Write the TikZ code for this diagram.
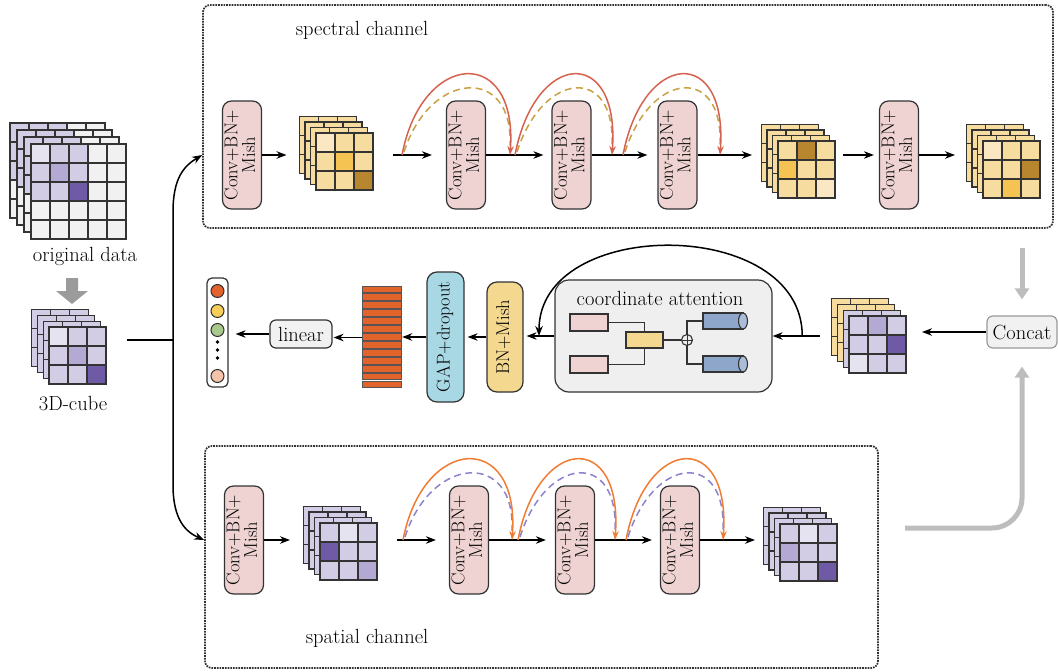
\documentclass[tikz,border=0pt]{standalone}
\usepackage{graphicx}
\usetikzlibrary{arrows.meta,calc}

\definecolor{edge}{HTML}{333333}
\definecolor{cvpink}{HTML}{EFD3D3}
\definecolor{pA}{HTML}{E6E3F0}
\definecolor{pB}{HTML}{D3CCE5}
\definecolor{pC}{HTML}{B3A9D3}
\definecolor{pD}{HTML}{6F5BA5}
\definecolor{gA}{HTML}{F1F1F1}
\definecolor{yA}{HTML}{FBE8C2}
\definecolor{yB}{HTML}{F6DC9F}
\definecolor{yC}{HTML}{F4C352}
\definecolor{yD}{HTML}{B7862F}
\definecolor{skR}{HTML}{D5614F}
\definecolor{skT}{HTML}{C9A046}
\definecolor{skO}{HTML}{F07C34}
\definecolor{skV}{HTML}{8B83CD}
\definecolor{grayarr}{HTML}{BDBDBD}
\definecolor{downgray}{HTML}{9B9B9B}
\definecolor{bnY}{HTML}{F5D890}
\definecolor{gapB}{HTML}{A9D8E5}
\definecolor{caG}{HTML}{EFEFEF}
\definecolor{cylB}{HTML}{8FA6CB}
\definecolor{barO}{HTML}{E2632B}
\definecolor{barEdge}{HTML}{555555}
\definecolor{dotY}{HTML}{F6CD58}
\definecolor{dotG}{HTML}{A9C98C}
\definecolor{dotP}{HTML}{F5C3A9}
\definecolor{concatEdge}{HTML}{9A9A9A}

\newcommand\bfnt{\fontsize{18.5}{15.5}\selectfont}
\newcommand\vlab[1]{\rotatebox{90}{\begin{tabular}{@{}c@{}}#1\end{tabular}}}

% one layer of a feature map: top-left corner, cells per side, colours row by row
\newcommand\gridlayer[4]{%
  \foreach \cc [count=\k from 0] in {#4}{%
    \pgfmathtruncatemacro\rr{floor(\k/#3)}%
    \pgfmathtruncatemacro\qq{\k-\rr*#3}%
    \filldraw[fill=\cc, draw=edge, line width=1.1pt]
      ({#1+\qq*19},{#2+\rr*19}) rectangle ++(19,19);
  }%
}
% a stack of four layers: front top-left, cells per side, layer step, back colours, front colours
\newcommand\fmap[6]{%
  \foreach \L in {3,2,1}{\gridlayer{#1-\L*#4}{#2-\L*#4}{#3}{#5}}%
  \gridlayer{#1}{#2}{#3}{#6}%
}
% residual jump: dashed inner arc and solid outer arc with its head
\newcommand\jumparc[4]{%
  \draw[jumpD=#4] ($(#1)+(2,-3)$) .. controls ($(#1)+(28,-85)$) and ($(#2)+(4,-90)$) .. ($(#2)+(0,-9)$);
  \draw[jumpS=#3] (#1) .. controls ($(#1)+(20,-105)$) and ($(#2)+(8,-110)$) .. (#2);
}
% horizontal cylinder given the centre of its left end
\newcommand\cyl[1]{%
  \filldraw[fill=cylB, draw=edge, line width=1.1pt] ($(#1)+(0,-8)$) rectangle ($(#1)+(40,8)$);
  \filldraw[fill=cylB!75!white, draw=edge, line width=1.1pt] ($(#1)+(40,0)$) ellipse [x radius=4.5pt, y radius=8pt];
}

\begin{document}
\begin{tikzpicture}[x=1pt,y=-1pt,
  lbl/.style={font=\fontsize{20.5}{22}\selectfont, inner sep=0pt},
  convbox/.style={draw=edge, fill=cvpink, rounded corners=9pt, line width=1.2pt,
    minimum width=39pt, minimum height=108pt, inner sep=0pt, font=\bfnt},
  vbox/.style={draw=edge, rounded corners=10pt, line width=1.2pt, inner sep=0pt, font=\bfnt},
  gbox/.style={draw=edge, fill=gA, rounded corners=6pt, line width=1.2pt, inner sep=0pt,
    font=\fontsize{20.5}{22}\selectfont},
  slot/.style={minimum size=#1, inner sep=0pt, outer sep=0pt},
  chan/.style={draw=edge, densely dotted, line width=1.7pt, rounded corners=7pt},
  arr/.style={line width=1.5pt, -{Stealth[length=10pt,width=7.5pt]}},
  jumpS/.style={line width=1.5pt, draw=#1, -{Stealth[length=9pt,width=6.5pt]}},
  jumpD/.style={line width=1.5pt, draw=#1, dash pattern=on 7pt off 4.5pt},
  garr/.style={draw=grayarr, line width=5pt, -{Triangle[length=11pt,width=14pt]}},
  inrect/.style={draw=edge, line width=1.1pt, inner sep=0pt, minimum width=38pt, minimum height=17pt},
  wire/.style={draw=edge, line width=1.1pt},
]
\useasboundingbox (0,0) rectangle (1058,672);

% ---------- channel frames ----------
\node[chan, minimum width=850pt, minimum height=223pt] (spec) at (628,116.5) {};
\node[chan, minimum width=673pt, minimum height=222pt] (spat) at (541.5,557) {};
\node[lbl] (speclbl) at (362,30) {spectral channel};
\node[lbl] (spatlbl) at (367,638) {spatial channel};

% ---------- input ----------
\fmap{31}{144}{5}{7}{pB,pB,pB,gA,gA,pB,pB,pB,gA,gA,pB,pB,pB,gA,gA,gA,gA,gA,gA,gA,gA,gA,gA,gA,gA}
     {pA,pB,pB,gA,gA,pB,pC,pB,gA,gA,pB,pB,pD,gA,gA,gA,gA,gA,gA,gA,gA,gA,gA,gA,gA}
\node[lbl] (origlbl) at (85,256) {original data};
\fill[downgray] (66,278) -- (78,278) -- (78,291) -- (88,291) -- (72,304) -- (56,291) -- (66,291) -- cycle;
\fmap{49}{327}{3}{5.7}{pB,pB,pB,pB,pB,pB,pB,pB,pB}{pA,pB,pB,pB,pC,pB,pB,pB,pD}
\node[slot=74.1pt] (cube0) at (68.95,346.95) {};
\node[lbl] (cubelbl) at (73,404) {3D-cube};

\coordinate (split) at (173,340);
\draw[line width=1.5pt, shorten <=21pt] (cube0.east |- split) -- (split);

% ---------- spectral channel ----------
\node[convbox] (cv1) at (242,155) {\vlab{Conv+BN+\\Mish}};
\node[convbox] (cv2) at (466,155) {\vlab{Conv+BN+\\Mish}};
\node[convbox] (cv3) at (571.5,155) {\vlab{Conv+BN+\\Mish}};
\node[convbox] (cv4) at (677.5,155) {\vlab{Conv+BN+\\Mish}};
\node[convbox] (cv5) at (899,155) {\vlab{Conv+BN+\\Mish}};

\fmap{316}{133}{3}{5.5}{yB,yB,yB,yB,yB,yB,yB,yB,yB}{yA,yB,yB,yB,yC,yB,yB,yB,yD}
\node[slot=73.5pt] (sc1) at (336.25,153.25) {};
\fmap{778}{141}{3}{5.5}{yB,yB,yB,yB,yB,yB,yB,yB,yB}{yB,yD,yB,yC,yB,yB,yB,yB,yA}
\node[slot=73.5pt] (sc2) at (798.25,161.25) {};
\fmap{983}{141}{3}{5.5}{yB,yB,yB,yB,yB,yB,yB,yB,yB}{yA,yB,yB,yB,yB,yD,yB,yC,yB}
\node[slot=73.5pt] (sc3) at (1003.25,161.25) {};

\draw[arr, shorten >=13pt] (cv1.east) -- (cv1.east -| sc1.west);
\draw[arr, shorten <=19.5pt, shorten >=14pt] (sc1.east |- cv2.west) -- (cv2.west);
\draw[arr, shorten >=8pt] (cv2.east) -- (cv3.west);
\draw[arr, shorten >=10pt] (cv3.east) -- (cv4.west);
\draw[arr, shorten >=9.5pt] (cv4.east) -- (cv4.east -| sc2.west);
\draw[arr, shorten <=8pt, shorten >=5pt] (sc2.east |- cv5.west) -- (cv5.west);
\draw[arr, shorten >=11.5pt] (cv5.east) -- (cv5.east -| sc3.west);

\coordinate (t1a) at (402,155); \coordinate (t1b) at (510,155);
\coordinate (t2a) at (515,155); \coordinate (t2b) at (612,155);
\coordinate (t3a) at (623,155); \coordinate (t3b) at (720,155);
\jumparc{t1a}{t1b}{skR}{skT}
\jumparc{t2a}{t2b}{skR}{skT}
\jumparc{t3a}{t3b}{skR}{skT}

\draw[arr] (split) -- (173,212) .. controls (173,178) and (184,166) .. (spec.west |- cv1);

% ---------- spatial channel ----------
\node[convbox] (cb1) at (244,540) {\vlab{Conv+BN+\\Mish}};
\node[convbox] (cb2) at (469,540) {\vlab{Conv+BN+\\Mish}};
\node[convbox] (cb3) at (575,540) {\vlab{Conv+BN+\\Mish}};
\node[convbox] (cb4) at (680,540) {\vlab{Conv+BN+\\Mish}};

\fmap{320}{523}{3}{5.5}{pB,pB,pB,pB,pB,pB,pB,pB,pB}{pB,pA,pB,pD,pB,pB,pB,pB,pC}
\node[slot=73.5pt] (sb1) at (340.25,543.25) {};
\fmap{780}{524}{3}{5.5}{pB,pB,pB,pB,pB,pB,pB,pB,pB}{pB,pA,pB,pC,pB,pB,pB,pB,pD}
\node[slot=73.5pt] (sb2) at (800.25,544.25) {};

\draw[arr, shorten >=13.5pt] (cb1.east) -- (cb1.east -| sb1.west);
\draw[arr, shorten <=20pt, shorten >=13pt] (sb1.east |- cb2.west) -- (cb2.west);
\draw[arr, shorten >=9pt] (cb2.east) -- (cb3.west);
\draw[arr, shorten >=8pt] (cb3.east) -- (cb4.west);
\draw[arr, shorten >=8.5pt] (cb4.east) -- (cb4.east -| sb2.west);

\coordinate (b1a) at (403,540); \coordinate (b1b) at (512,540);
\coordinate (b2a) at (518,540); \coordinate (b2b) at (615,540);
\coordinate (b3a) at (626,540); \coordinate (b3b) at (723,540);
\jumparc{b1a}{b1b}{skO}{skV}
\jumparc{b2a}{b2b}{skO}{skV}
\jumparc{b3a}{b3b}{skO}{skV}

\draw[arr] (split) -- (173,485) .. controls (173,520) and (186,532) .. (spat.west |- cb1);

% ---------- fusion and classification ----------
\node[gbox, draw=concatEdge, minimum width=70pt, minimum height=32pt] (concat) at (1022,332) {Concat};
\draw[garr, shorten <=19pt, shorten >=16pt] (spec.south -| concat.north) -- (concat.north);
\coordinate (gs) at (905,528);
\draw[garr, rounded corners=30pt, shorten >=18pt] (gs) -| (concat.south);

\gridlayer{849-3*5.7}{316-3*5.7}{3}{yB,yB,yB,yB,yB,yB,yB,yB,yB}
\gridlayer{849-2*5.7}{316-2*5.7}{3}{yB,yB,yB,yB,yB,yB,yB,yB,yB}
\gridlayer{849-5.7}{316-5.7}{3}{pB,pB,pB,pB,pB,pB,pB,pB,pB}
\gridlayer{849}{316}{3}{pB,pC,pB,pB,pB,pD,pA,pB,pB}
\node[slot=74.1pt] (mc) at (868.95,335.95) {};

% coordinate attention block
\node[draw=edge, fill=caG, rounded corners=14pt, line width=1.2pt,
      minimum width=217pt, minimum height=112pt] (ca) at (663.5,336) {};
\node[lbl] (catitle) at (660,298) {coordinate attention};
\node[inrect, fill=cvpink] (p1) at (589,322.5) {};
\node[inrect, fill=cvpink] (p2) at (589,364.5) {};
\node[inrect, fill=bnY, minimum width=37pt, minimum height=16pt] (ym) at (644.5,340) {};
\node[circle, draw=edge, line width=1.1pt, minimum size=11pt, inner sep=0pt,
      path picture={\draw[edge, line width=0.9pt]
        (path picture bounding box.north) -- (path picture bounding box.south)
        (path picture bounding box.west) -- (path picture bounding box.east);}] (op) at (687,340) {};
\coordinate (cy1) at (703,321);
\coordinate (cy2) at (703,364);
\draw[wire] (p1.east) -| (ym.north);
\draw[wire] (p2.east) -| (ym.south);
\draw[wire] (ym.east) -- (op.west);
\draw[wire] (op.north) |- (cy1);
\draw[wire] (op.south) |- (cy2);
\cyl{cy1}
\cyl{cy2}

\node[vbox, fill=bnY, minimum width=36pt, minimum height=110pt] (bn) at (505,337) {\vlab{BN+Mish}};
\node[vbox, fill=gapB, minimum width=37pt, minimum height=130pt] (gap) at (445.5,337) {\vlab{GAP+dropout}};

% flattened feature vector
\node[minimum width=39pt, minimum height=103pt, inner sep=0pt] (feat) at (381.5,337.5) {};
\foreach \i in {0,...,12}
  \filldraw[fill=barO, draw=barEdge, line width=1pt] (362,{286+\i*7.95}) rectangle (401,{286+\i*7.95+6.5});

\node[gbox, minimum width=62pt, minimum height=28pt] (lin) at (301,334) {linear};

% class scores
\node[draw=edge, fill=white, rounded corners=5pt, line width=1.2pt,
      minimum width=21pt, minimum height=109pt] (out) at (217.5,332.5) {};
\filldraw[fill=barO, draw=edge, line width=1pt] (217.5,291) circle [radius=6.5pt];
\filldraw[fill=dotY, draw=edge, line width=1pt] (217.5,311) circle [radius=6.5pt];
\filldraw[fill=dotG, draw=edge, line width=1pt] (217.5,330) circle [radius=6.5pt];
\foreach \yy in {342,350,358} \fill[black] (217.5,\yy) circle [radius=1.9pt];
\filldraw[fill=dotP, draw=edge, line width=1pt] (217.5,376) circle [radius=6.5pt];

% middle row connectors
\draw[arr, shorten >=16pt] (concat.west) -- (concat.west -| mc.east);
\draw[arr] ($(mc.west |- ca.east)+(-12,0)$) -- (ca.east);
\coordinate (ls) at ($(ca.east)!0.5!(mc.west |- ca.east)$);
\coordinate (le) at ($(bn.east |- ca.west)!0.5!(ca.west)$);
\draw[arr] (ls) .. controls ($(ls)+(0,-120)$) and ($(le)+(0,-120)$) .. (le);
\draw[arr, shorten >=3pt] (ca.west) -- (ca.west -| bn.east);
\draw[arr, shorten >=3pt] (bn.west) -- (bn.west -| gap.east);
\draw[arr, shorten >=1pt] (gap.west) -- (gap.west -| feat.east);
\draw[arr, shorten >=1pt] (feat.west) -- (feat.west -| lin.east);
\draw[arr, shorten >=7pt] (lin.west) -- (lin.west -| out.east);

\end{tikzpicture}
\end{document}
